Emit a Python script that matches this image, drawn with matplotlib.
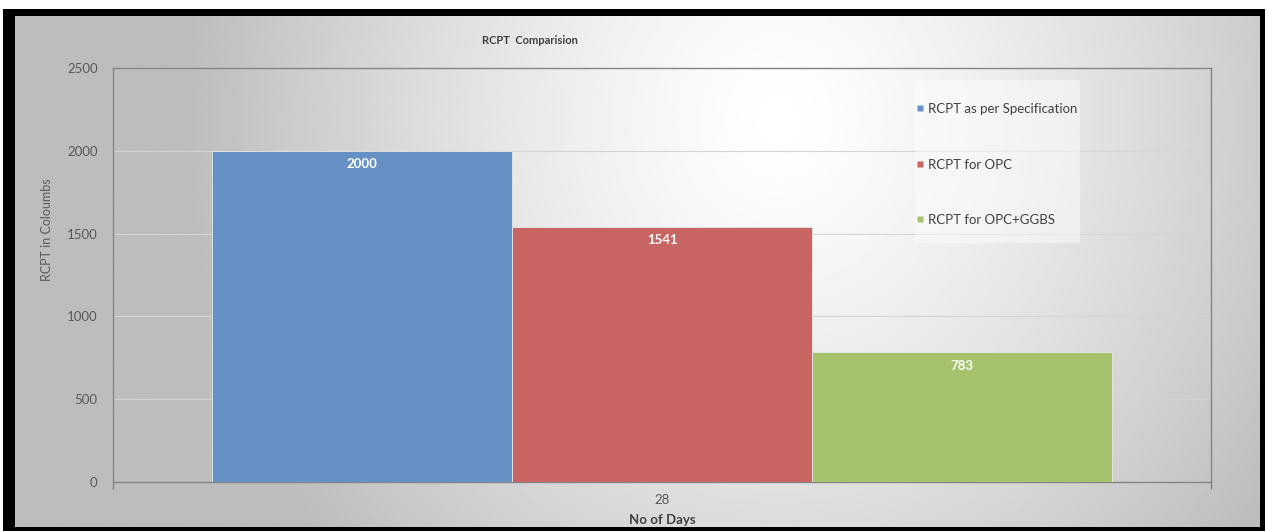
import numpy as np
import matplotlib.pyplot as plt
from matplotlib.patches import Rectangle
from matplotlib.lines import Line2D

plt.rcParams['font.family'] = ['Lato', 'DejaVu Sans']

categories = ["28"]
series_names = ["RCPT as per Specification", "RCPT for OPC", "RCPT for OPC+GGBS"]
series_values = [2000, 1541, 783]
series_colors = ["#6691C5", "#C86563", "#A5C36D"]
y_ticks = [0, 500, 1000, 1500, 2000, 2500]

W, H = 1268, 531
fig = plt.figure(figsize=(W / 100, H / 100), dpi=100)
fig.patch.set_facecolor("white")

# black outer frame
frame = fig.add_axes([0, 0, 1, 1], zorder=-3)
frame.set_xlim(0, W)
frame.set_ylim(H, 0)
frame.axis("off")
frame.add_patch(Rectangle((3, 9), W - 6, H - 9, facecolor="black", edgecolor="none"))

# gradient panel inside the frame
px0, px1, py0, py1 = 15, 1260, 16, 527
xs = np.linspace(px0, px1, 400)
ys = np.linspace(py0, py1, 200)
X, Y = np.meshgrid(xs, ys)
r = np.sqrt(((X - 780) / 560) ** 2 + ((Y - 120) / 620) ** 2)
val = np.clip(1.0 - 0.24 * r ** 1.3, 0.74, 1.0)
frame.imshow(val, cmap="gray", vmin=0, vmax=1, extent=(px0, px1, py1, py0),
             aspect="auto", interpolation="bilinear", zorder=1)

ax = fig.add_axes([113 / W, (H - 482) / H, 1098 / W, 414 / H])
ax.set_facecolor("none")

n = len(series_values)
bw = 0.2732
for i, (name, v, c) in enumerate(zip(series_names, series_values, series_colors)):
    x = (i - (n - 1) / 2) * bw
    ax.bar(x, v, width=bw, color=c, edgecolor="#e8e8e8", linewidth=0.6, zorder=3, label=name)
    ax.text(x, v - 45, f"{v}", ha="center", va="top", color="white",
            fontsize=9.5, fontweight="bold", zorder=4)

ax.set_xlim(-0.5, 0.5)
ax.set_ylim(0, 2500)
ax.set_yticks(y_ticks)
ax.set_yticklabels([str(t) for t in y_ticks])
ax.set_xticks([0])
ax.set_xticklabels(categories)
ax.set_xticks([-0.5, 0.5], minor=True)
ax.tick_params(axis="x", which="major", length=0, pad=9, labelsize=9.5, labelcolor="#595959")
ax.tick_params(axis="x", which="minor", length=5, color="#808080", width=1)
ax.tick_params(axis="y", length=0, pad=11, labelsize=9.5, labelcolor="#595959")
ax.grid(axis="y", color="#d4d4d4", linewidth=0.8, zorder=0)
ax.set_axisbelow(True)
for s in ax.spines.values():
    s.set_color("#858585")
    s.set_linewidth(1.0)

fig.text(662 / W, 1 - 520 / H, "No of Days", ha="center", va="center",
         fontsize=9.5, fontweight="bold", color="#404040")
fig.text(47 / W, 1 - 230 / H, "RCPT in Coloumbs", ha="center", va="center",
         rotation=90, fontsize=9, color="#595959")
fig.text(530 / W, 1 - 40 / H, "RCPT  Comparision", ha="center", va="center",
         fontsize=8, fontweight="bold", color="#404040")

# translucent legend backdrop
ax.add_patch(Rectangle((915 / W, 1 - 243 / H), 165 / W, 163 / H,
                       transform=fig.transFigure, facecolor="white", alpha=0.45,
                       edgecolor="none", zorder=5, clip_on=False))

handles = [Line2D([], [], marker="s", linestyle="none", markersize=5,
                  markerfacecolor=c, markeredgecolor="none") for c in series_colors]
leg = ax.legend(handles, series_names, loc="upper left",
                bbox_to_anchor=(916 / W, 1 - 103 / H), bbox_transform=fig.transFigure,
                frameon=False, fontsize=9.5, labelspacing=3.3, handlelength=0.6,
                handletextpad=0.3, borderpad=0, borderaxespad=0)
leg.set_zorder(10)
for t in leg.get_texts():
    t.set_color("#404040")

fig.savefig("out.png", dpi=100)
